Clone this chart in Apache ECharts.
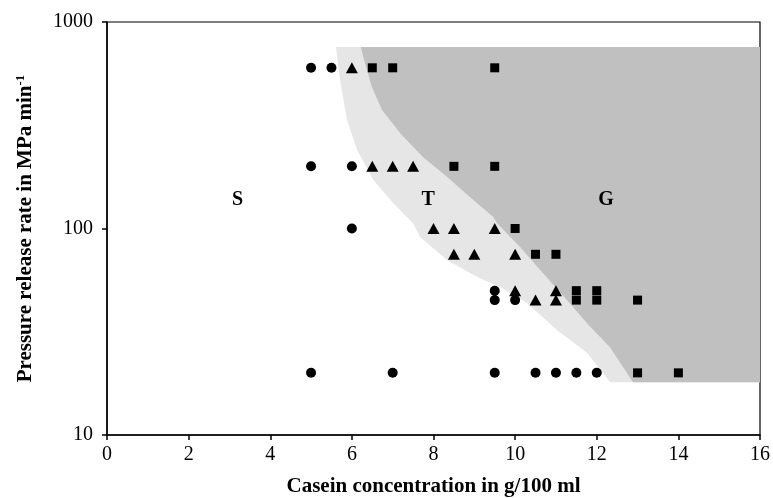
<!DOCTYPE html>
<html>
<head>
<meta charset="utf-8">
<script src="https://cdn.jsdelivr.net/npm/echarts@6/dist/echarts.min.js"></script>
<style>
  html, body { margin: 0; padding: 0; background: #fff; }
  #main { width: 773px; height: 498px; }
</style>
</head>
<body>
<div id="main"></div>
<script>
// measured points, [casein g/100 ml, release rate MPa/min]
const solPoints = [
  [5, 600], [5.5, 600],
  [5, 200], [6, 200],
  [6, 100],
  [9.5, 50],
  [9.5, 45], [10, 45],
  [5, 20], [7, 20], [9.5, 20], [10.5, 20], [11, 20], [11.5, 20], [12, 20]
]
const transPoints = [
  [6, 600],
  [6.5, 200], [7, 200], [7.5, 200],
  [8, 100], [8.5, 100], [9.5, 100],
  [8.5, 75], [9, 75], [10, 75],
  [10, 50], [11, 50],
  [10.5, 45], [11, 45]
]
const gelPoints = [
  [6.5, 600], [7, 600], [9.5, 600],
  [8.5, 200], [9.5, 200],
  [10, 100],
  [10.5, 75], [11, 75],
  [11.5, 50], [12, 50],
  [11.5, 45], [12, 45], [13, 45],
  [13, 20], [14, 20]
]

// shaded areas (transition region and gel region)
const transArea = [
  [5.61, 757], [5.71, 524], [5.88, 335], [6.13, 240], [6.52, 172], [7.01, 133],
  [7.5, 106], [7.67, 91], [8.33, 70.4], [9.07, 58.2], [9.63, 52.1], [10.29, 43.6],
  [11.03, 32.2], [11.76, 25], [12.33, 18], [16, 18], [16, 757]
]
const gelArea = [
  [6.22, 757], [6.32, 633], [6.49, 484], [6.74, 375], [7.18, 290], [7.74, 222],
  [8.33, 178], [8.89, 142], [9.46, 114], [9.56, 106], [10.12, 81.4], [10.68, 60.9],
  [11.27, 45], [11.76, 34.8], [12.32, 26.7], [12.89, 18], [16, 18], [16, 757]
]

const regionLabels = [
  { name: 'S', value: [3.2, 137] },
  { name: 'T', value: [7.87, 137] },
  { name: 'G', value: [12.23, 137] }
]

const FONT = '"Liberation Serif", "Times New Roman", serif'

const chart = echarts.init(document.getElementById('main'))

function areaSeries(points, color) {
  return {
    type: 'custom',
    silent: true,
    z: 1,
    data: [points[0]],
    renderItem: function (params, api) {
      const pts = points.map(p => api.coord(p))
      return {
        type: 'polygon',
        shape: { points: pts },
        style: { fill: color, stroke: null }
      }
    }
  }
}

chart.setOption({
  animation: false,
  grid: {
    left: 107, right: 13, top: 22, bottom: 63,
    outerBoundsMode: 'none',
    show: true, borderColor: '#000', borderWidth: 1.2, backgroundColor: 'transparent'
  },
  xAxis: {
    type: 'value',
    min: 0, max: 16, interval: 2,
    name: 'Casein concentration in g/100 ml',
    nameLocation: 'middle',
    nameGap: 41,
    nameTextStyle: { fontFamily: FONT, fontWeight: 'bold', fontSize: 21, color: '#000' },
    axisLine: { lineStyle: { color: '#000', width: 1.5 } },
    axisTick: { inside: false, length: 5, lineStyle: { color: '#000', width: 1.5 } },
    axisLabel: { fontFamily: FONT, fontSize: 20, color: '#000', margin: 10 },
    splitLine: { show: false }
  },
  yAxis: {
    type: 'log',
    logBase: 10,
    min: 10, max: 1000,
    name: '{t|Pressure release rate in MPa min}{s|-1}',
    nameLocation: 'middle',
    nameGap: 70,
    nameTextStyle: {
      rich: {
        t: { fontFamily: FONT, fontWeight: 'bold', fontSize: 21, color: '#000' },
        s: { fontFamily: FONT, fontWeight: 'bold', fontSize: 13, color: '#000', verticalAlign: 'top', padding: [0, 0, 10, 0] }
      }
    },
    axisLine: { lineStyle: { color: '#000', width: 1.5 } },
    axisTick: { inside: false, length: 5, lineStyle: { color: '#000', width: 1.5 } },
    minorTick: { show: false },
    axisLabel: {
      fontFamily: FONT, fontSize: 20, color: '#000', margin: 14,
      formatter: v => String(v)
    },
    splitLine: { show: false }
  },
  series: [
    areaSeries(transArea, '#e6e6e6'),
    areaSeries(gelArea, '#c0c0c0'),
    {
      type: 'scatter', z: 5, symbol: 'circle', symbolSize: 10,
      itemStyle: { color: '#000', opacity: 1 }, data: solPoints
    },
    {
      type: 'scatter', z: 5, symbol: 'triangle', symbolSize: [12, 11],
      itemStyle: { color: '#000', opacity: 1 }, data: transPoints
    },
    {
      type: 'scatter', z: 5, symbol: 'rect', symbolSize: 9,
      itemStyle: { color: '#000', opacity: 1 }, data: gelPoints
    },
    {
      type: 'scatter', z: 6, symbolSize: 0,
      itemStyle: { opacity: 1 },
      data: regionLabels,
      label: {
        show: true, position: 'inside', formatter: '{b}',
        fontFamily: FONT, fontWeight: 'bold', fontSize: 20, color: '#000', opacity: 1
      }
    }
  ]
})

window.addEventListener('resize', () => {
  chart.resize()
})
</script>
</body>
</html>
